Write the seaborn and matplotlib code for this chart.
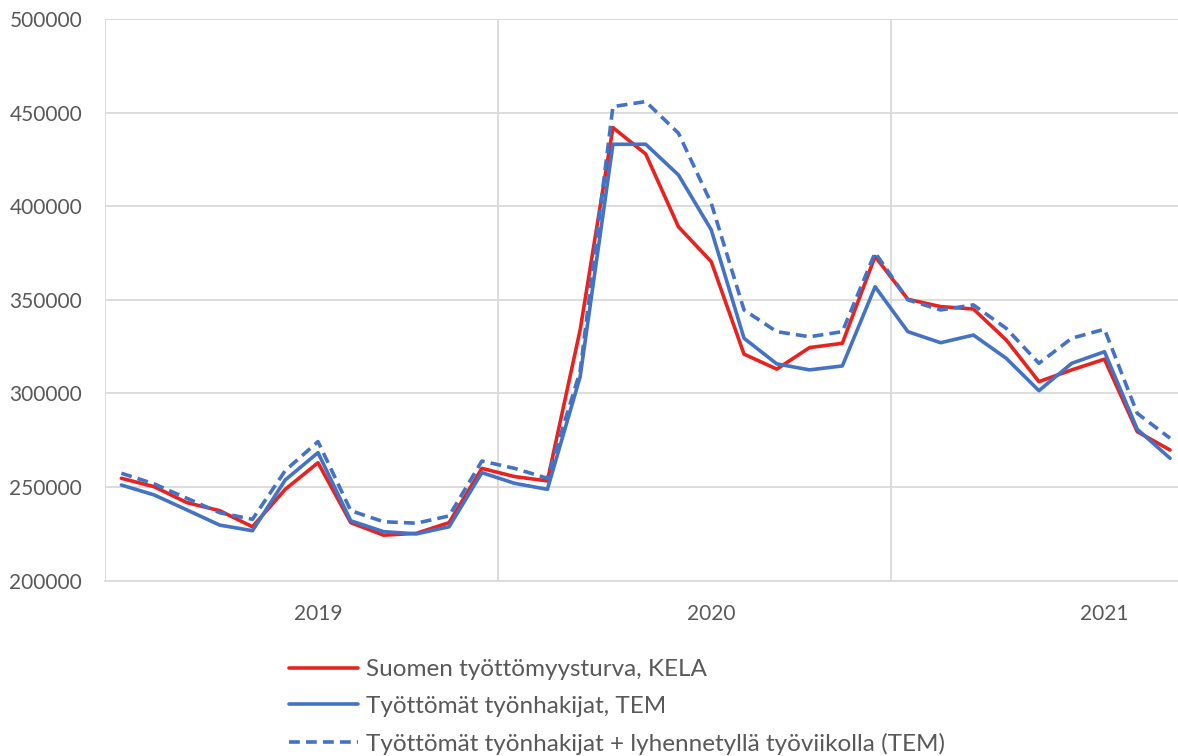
import pandas as pd
import numpy as np
import seaborn as sns
import matplotlib.pyplot as plt

# monthly values Jan 2019 - Sep 2021
months = pd.date_range("2019-01-01", "2021-09-01", freq="MS").strftime("%Y-%m").tolist()

kela = [254700, 250200, 241700, 237400, 228800, 248800, 263000, 231000, 224300, 225300, 231000, 260000,
        255600, 253300, 334000, 442000, 427900, 389000, 370400, 321000, 313000, 324500, 326800, 373200,
        350300, 346400, 345100, 328600, 306300, 312600, 318300, 279600, 269800]

tem = [251100, 245800, 237800, 229700, 226700, 253800, 268400, 232000, 226200, 225000, 228800, 257700,
       252000, 248800, 309000, 433100, 433100, 416700, 387400, 329500, 315800, 312600, 314700, 357000,
       333000, 327100, 331200, 318800, 301500, 316100, 322300, 280900, 265400]

tem_lyh = [257400, 251700, 244000, 236300, 232800, 258800, 274300, 237400, 231500, 230700, 234600, 263900,
           260000, 254700, 312000, 453200, 455900, 439000, 401600, 344600, 333000, 330300, 333000, 375200,
           350000, 344600, 347300, 334800, 316100, 329500, 334300, 289400, 276100]

labels = ["Suomen työttömyysturva, KELA",
          "Työttömät työnhakijat, TEM",
          "Työttömät työnhakijat + lyhennetyllä työviikolla (TEM)"]

df = pd.DataFrame({"month": months, "kela": kela, "tem": tem, "tem_lyh": tem_lyh})
df["i"] = np.arange(len(df))

sns.set_theme(style="white")
plt.rcParams['font.family'] = ['Lato', 'DejaVu Sans']

grid_c = "#d9d9d9"
txt_c = "#595959"
lw = 2.6

fig = plt.figure(figsize=(11.78, 7.56), dpi=100)
ax = fig.add_axes([105 / 1178, (756 - 580.7) / 756, 1 - 105 / 1178, (580.7 - 19) / 756])

sns.lineplot(data=df, x="i", y="kela", color="#e8231f", linewidth=lw, label=labels[0], ax=ax)
sns.lineplot(data=df, x="i", y="tem", color="#4472c4", linewidth=lw, label=labels[1], ax=ax)
sns.lineplot(data=df, x="i", y="tem_lyh", color="#4472c4", linewidth=lw, label=labels[2], ax=ax)
ax.lines[-1].set_dashes((3.0, 1.7))

# year boundaries and year labels
year_starts = df.index[df["month"].str.endswith("-01")].tolist()
for s in year_starts:
    ax.axvline(s - 0.5, color=grid_c, linewidth=1.3, zorder=0)
ax.set_yticks(np.arange(200000, 500001, 50000))
for yv in ax.get_yticks()[1:]:
    ax.axhline(yv, color=grid_c, linewidth=1.3, zorder=0)

july = df.index[df["month"].str.endswith("-07")].tolist()
ax.set_xticks(july)
ax.set_xticklabels([m[:4] for m in df.loc[july, "month"]])

ax.set_xlim(-0.5, (1178 - 105) / 32.77 - 0.5)
ax.set_ylim(200000, 500000)
ax.set_xlabel("")
ax.set_ylabel("")

for sp in ["top", "right", "left"]:
    ax.spines[sp].set_visible(False)
ax.spines["bottom"].set_color(grid_c)
ax.spines["bottom"].set_linewidth(1.3)

ax.tick_params(axis="x", length=0, pad=17, labelsize=15, labelcolor=txt_c)
ax.tick_params(axis="y", length=0, pad=16.5, labelsize=15, labelcolor=txt_c)

ax.get_legend().remove()
handles, lbls = ax.get_legend_handles_labels()
fig.legend(handles, lbls, loc="upper left", bbox_to_anchor=(289 / 1178, 1 - 659 / 756),
           frameon=False, fontsize=17.5, labelcolor=txt_c, handlelength=2.85,
           handletextpad=0.3, labelspacing=0.65, borderpad=0, borderaxespad=0)

fig.savefig("out.png", dpi=100)
